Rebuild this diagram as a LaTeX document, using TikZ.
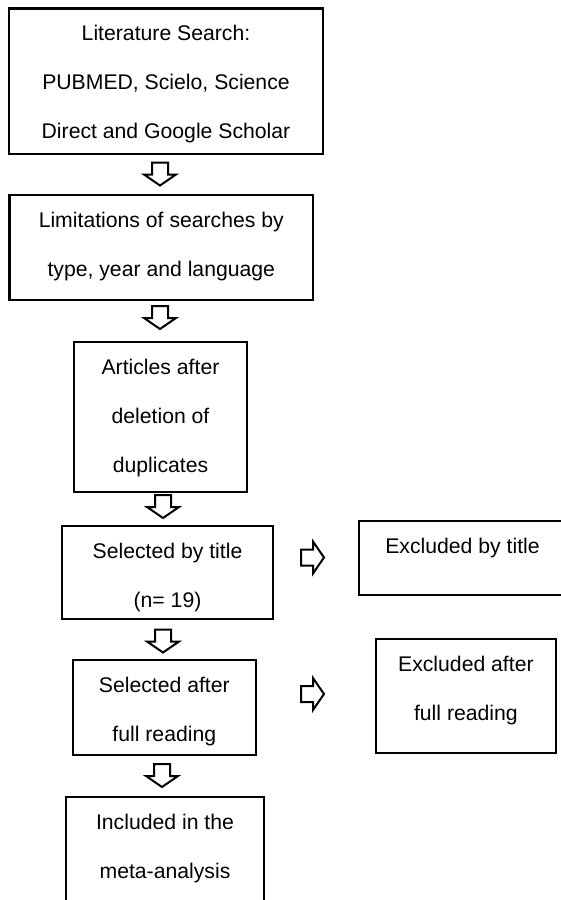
\documentclass[tikz,border=0pt]{standalone}
\usepackage{fontspec}
\setmainfont{Liberation Sans}
\newcommand{\boxlines}[1]{\begin{tabular}[t]{@{}c@{}}#1\end{tabular}}

\begin{document}
\begin{tikzpicture}[x=1pt, y=-1pt,
  stage/.style={draw, line width=2.2pt, inner sep=0pt, anchor=north, text height=32.3pt,
    font=\fontsize{21.2}{49}\selectfont},
  blockarrow/.pic={\draw[line width=2pt] (-8,0) -- (8,0) -- (8,12) -- (16,12) -- (0,23)
    -- (-16,12) -- (-8,12) -- cycle;}]
  \useasboundingbox (0,0) rectangle (561,900);
  \clip (0,0) rectangle (561,900);
  \node[stage, minimum width=313.4pt, text depth=113.5pt] (search) at (166,7.3)
    {\boxlines{Literature Search:\\PUBMED, Scielo, Science\\Direct and Google Scholar}};
  \node[stage, minimum width=303.5pt, text depth=72.7pt] (limits) at (161.3,194)
    {\boxlines{Limitations of searches by\\type, year and language}};
  \node[stage, minimum width=173pt, text depth=117.7pt] (dedup) at (160.5,340.7)
    {\boxlines{Articles after\\deletion of\\duplicates}};
  \node[stage, minimum width=211.6pt, text depth=60.2pt] (bytitle) at (167.5,525)
    {\boxlines{Selected by title\\(n= 19)}};
  \node[stage, minimum width=183.4pt, text depth=62.7pt] (fullread) at (164.3,659)
    {\boxlines{Selected after\\full reading}};
  \node[stage, minimum width=198pt, text depth=110pt] (included) at (165,796)
    {\boxlines{Included in the\\meta-analysis}};
  \node[stage, minimum width=207pt, text depth=41.3pt] (extitle) at (462.5,520)
    {Excluded by title};
  \node[stage, minimum width=180.3pt, text depth=82pt] (exfull) at (465.9,637.7)
    {\boxlines{Excluded after\\full reading}};
  \foreach \x/\y in {160/162.5, 160/306, 163/495, 163/629.5, 162/764}
    \pic at (\x,\y) {blockarrow};
  \foreach \y in {557.5, 694}
    \pic[rotate=90] at (301,\y) {blockarrow};
\end{tikzpicture}
\end{document}
